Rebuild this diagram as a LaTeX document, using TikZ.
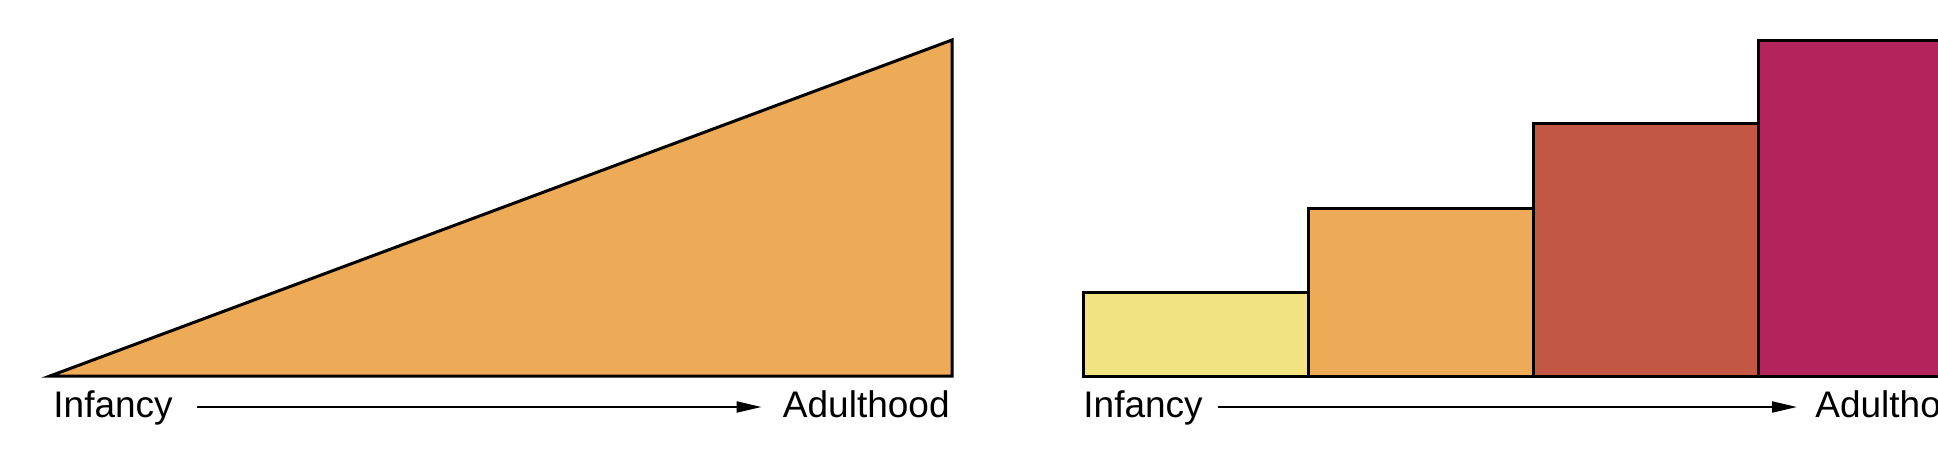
\documentclass[tikz,border=0pt]{standalone}
\usepackage{fontspec}
\setmainfont{Liberation Sans}
\usetikzlibrary{positioning,arrows.meta}
\definecolor{stageyellow}{HTML}{F1E381}
\definecolor{stageorange}{HTML}{EEAB57}
\definecolor{stagered}{HTML}{C25843}
\definecolor{stagemagenta}{HTML}{B2245B}
\tikzstyle{stage} = [rectangle, draw=black, line width=1.5pt, inner sep=0pt, outer sep=0pt, minimum width=112.5pt, anchor=south west]
\tikzstyle{agelabel} = [inner sep=0pt, font=\fontsize{18.5}{20}\selectfont, text height=13pt, text depth=3pt]
\tikzstyle{arrow} = [-{Triangle[length=12.5pt,width=5.5pt]}, line width=1pt]

\begin{document}
\begin{tikzpicture}[x=0.5pt, y=-0.5pt]
      \useasboundingbox (0,0) rectangle (1938,461);
      %gradual growth
      \coordinate (tip) at (50,376);
      \coordinate (base) at (952,376);
      \coordinate (peak) at (952,40);
      \draw[fill=stageorange, line width=1.5pt] (tip) -- (base) -- (peak) -- cycle;
      \node[agelabel, anchor=base west](infancyA) at (53,417){Infancy};
      \node[agelabel, anchor=base east](adultA) at (950,417){Adulthood};
      \draw [arrow, shorten <=12pt, shorten >=10.5pt] (infancyA.east) -- (adultA.west);
      %stages
      \node[stage, fill=stageyellow, minimum height=42pt](first) at (1083,376){};
      \node[stage, fill=stageorange, minimum height=84pt](second) at (first.south east){};
      \node[stage, fill=stagered, minimum height=126.5pt](third) at (second.south east){};
      \node[stage, fill=stagemagenta, minimum height=168pt](fourth) at (third.south east){};
      \node[agelabel, anchor=base west](infancyB) at (1083,417){Infancy};
      \node[agelabel, anchor=base west](adultB) at (1815,417){Adulthood};
      \draw [arrow, shorten <=7.5pt, shorten >=9pt] (infancyB.east) -- (adultB.west);
\end{tikzpicture}
\end{document}
